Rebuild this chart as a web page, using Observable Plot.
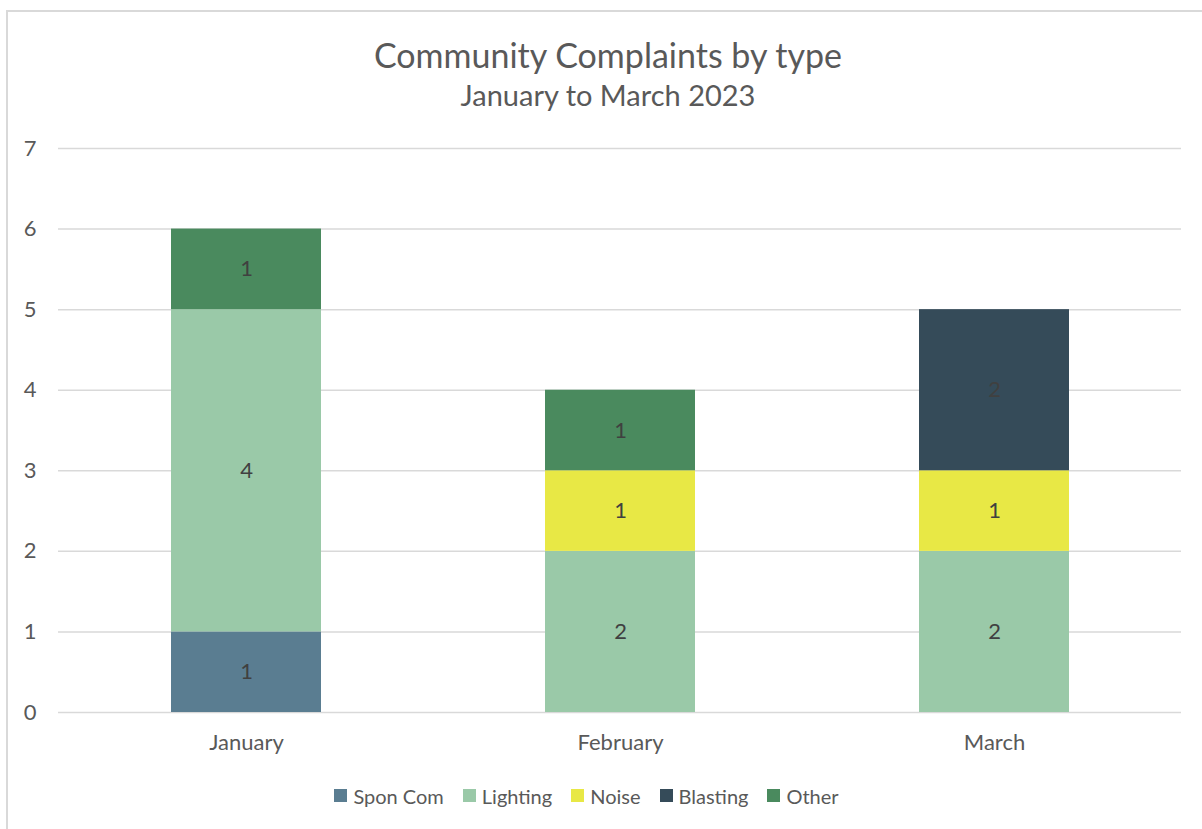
<!DOCTYPE html>
<html>
<head>
<meta charset="utf-8">
<script src="https://cdn.jsdelivr.net/npm/d3@7"></script>
<script src="https://cdn.jsdelivr.net/npm/@observablehq/plot@0.6"></script>
<style>
  html, body { margin: 0; padding: 0; background: #fff; }
  #wrap { position: relative; width: 1202px; height: 829px; overflow: hidden; font-family: Lato, "Open Sans", sans-serif; color: #595959; }
  #frame { position: absolute; left: 6px; top: 10px; width: 1300px; height: 900px; border-left: 2px solid #d9d9d9; border-top: 2px solid #d9d9d9; }
  #title { position: absolute; left: 0; width: 1216px; top: 35px; text-align: center; font-size: 34px; line-height: 40px; }
  #subtitle { position: absolute; left: 0; width: 1216px; top: 78px; text-align: center; font-size: 29px; line-height: 34px; }
  #chart { position: absolute; left: 0; top: 120px; }
  #legend { position: absolute; left: 0; width: 1192px; top: 779px; display: flex; justify-content: center; }
  .lg-swatch svg { margin-right: 6px !important; }
  .lg-swatch { margin-right: 19px !important; }
</style>
</head>
<body>
<div id="wrap">
  <div id="frame"></div>
  <div id="title">Community Complaints by type</div>
  <div id="subtitle">January to March 2023</div>
  <div id="chart"></div>
  <div id="legend"></div>
</div>
<script>
const months = ["January", "February", "March"];
const seriesNames = ["Spon Com", "Lighting", "Noise", "Blasting", "Other"];
const seriesColors = ["#5a7d91", "#9ac9a8", "#e8e845", "#354b59", "#4a8a5e"];
const sponCom  = [1, 0, 0];
const lighting = [4, 2, 2];
const noise    = [0, 1, 1];
const blasting = [0, 0, 2];
const other    = [1, 1, 0];
const yTicks = [0, 1, 2, 3, 4, 5, 6, 7];

const seriesValues = [sponCom, lighting, noise, blasting, other];
const rows = [];
seriesNames.forEach((s, si) => {
  months.forEach((m, mi) => {
    const v = seriesValues[si][mi];
    if (v > 0) rows.push({month: m, type: s, value: v});
  });
});

const font = 'Lato, "Open Sans", sans-serif';

const chart = Plot.plot({
  width: 1202,
  height: 640,
  marginTop: 28,
  marginBottom: 48,
  marginLeft: 58,
  marginRight: 21,
  style: {fontFamily: font, fontSize: "22px", color: "#595959", background: "transparent", overflow: "visible"},
  x: {domain: months, paddingInner: 0.6, paddingOuter: 0.3, label: null, tickSize: 0, tickPadding: 22},
  y: {domain: [0, 7], ticks: yTicks, label: null, tickSize: 0, tickPadding: 22, tickFormat: d3.format("d")},
  color: {domain: seriesNames, range: seriesColors},
  marks: [
    Plot.ruleY(yTicks, {stroke: "#d9d9d9", strokeWidth: 1.5}),
    Plot.barY(rows, Plot.stackY({x: "month", y: "value", z: "type", fill: "type", order: seriesNames})),
    Plot.text(rows, Plot.stackY({x: "month", y: "value", z: "type", text: "value", order: seriesNames, fill: "#404040", fontSize: 22, fontFamily: font}))
  ]
});
document.getElementById("chart").appendChild(chart);

const legend = Plot.legend({
  color: {domain: seriesNames, range: seriesColors},
  legend: "swatches",
  swatchSize: 13,
  className: "lg",
  style: {fontFamily: font, fontSize: "20px", color: "#595959"}
});
document.getElementById("legend").appendChild(legend);
</script>
</body>
</html>
